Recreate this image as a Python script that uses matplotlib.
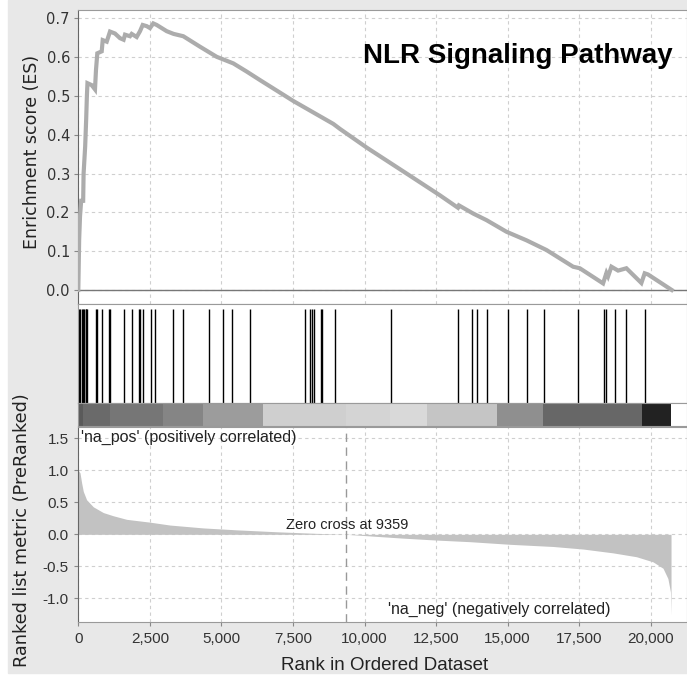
import matplotlib
matplotlib.use('Agg')
import matplotlib.pyplot as plt
from matplotlib.patches import Rectangle
import numpy as np

# running enrichment score (rank, ES)
es_rank = [0, 30, 60, 100, 170, 185, 240, 275, 300, 320, 468, 583, 618, 664, 818, 853,
           993, 1108, 1282, 1457, 1583, 1632, 1806, 1865, 2040, 2156, 2250, 2390, 2505,
           2620, 2740, 3089, 3330, 3669, 4252, 4834, 5416, 5882, 6348, 7515, 8911, 9145,
           10077, 11473, 12635, 13264, 13300, 13798, 14264, 14963, 15661, 16359, 17289,
           17522, 18336, 18453, 18510, 18627, 18860, 19150, 19674, 19790, 19906, 20735]
es_value = [0.0, 0.13, 0.19, 0.23, 0.23, 0.30, 0.37, 0.44, 0.50, 0.533, 0.528, 0.517,
            0.567, 0.61, 0.615, 0.644, 0.64, 0.666, 0.661, 0.649, 0.645, 0.658, 0.654,
            0.66, 0.652, 0.667, 0.683, 0.68, 0.675, 0.687, 0.683, 0.667, 0.66, 0.654,
            0.627, 0.601, 0.584, 0.563, 0.541, 0.487, 0.428, 0.415, 0.367, 0.30, 0.244,
            0.212, 0.218, 0.197, 0.18, 0.15, 0.128, 0.103, 0.06, 0.056, 0.017, 0.044,
            0.035, 0.06, 0.05, 0.056, 0.018, 0.043, 0.04, 0.0]

# gene set hits (rank positions)
hits = [20, 60, 130, 170, 215, 255, 285, 310, 618, 663, 813,
        1082, 1117, 1606, 1860, 2119, 2164, 2258, 2548, 2663, 3316, 3675, 4562, 5072,
        5365, 6014, 7923, 8098, 8168, 8237, 8471, 8516, 8970, 10925, 13264, 13763,
        13916, 14265, 15009, 15661, 16265, 17463, 18370, 18454, 18768, 19152, 19815]

# colour band under the hits
band_edges = [0, 164, 1108, 2960, 4357, 6454, 9350, 10890, 12184, 14630, 16236, 19696, 20710]
band_colors = ['#5a5a5a', '#6a6a6a', '#767676', '#858585', '#9c9c9c', '#cfcfcf',
               '#d4d4d4', '#d9d9d9', '#c5c5c5', '#8f8f8f', '#676767', '#222222']

# ranked list metric
metric_rank = [0, 60, 118, 175, 290, 523, 873, 1222, 1690, 2503, 3200, 4363, 5527,
               6923, 8320, 9359, 11355, 12520, 13682, 15078, 16590, 17638, 18685,
               19500, 20080, 20430, 20600, 20690, 20710]
metric_value = [1.0, 0.96, 0.80, 0.67, 0.54, 0.43, 0.34, 0.29, 0.234, 0.19, 0.145, 0.10,
                0.07, 0.04, 0.015, 0.0, -0.06, -0.09, -0.115, -0.156, -0.19, -0.23,
                -0.29, -0.35, -0.43, -0.53, -0.69, -0.9, -1.26]
zero_cross = 9359

x_ticks = [0, 2500, 5000, 7500, 10000, 12500, 15000, 17500, 20000]
x_ticklabels = ['0', '2,500', '5,000', '7,500', '10,000', '12,500', '15,000', '17,500', '20,000']
es_ticks = [0.0, 0.1, 0.2, 0.3, 0.4, 0.5, 0.6, 0.7]
metric_ticks = [-1.0, -0.5, 0.0, 0.5, 1.0, 1.5]

W, H = 687, 679
XMAX = 21268
narrow = ['Liberation Sans', 'DejaVu Sans']
tick_col = '#333333'
grid_kw = dict(color='#cfcfcf', linestyle=(0, (3, 3)), linewidth=0.8)


def box(top, bottom, left=78.3, right=687):
    # pixel box -> figure fraction
    return [left / W, 1 - bottom / H, (right - left) / W, (bottom - top) / H]


fig = plt.figure(figsize=(W / 100, H / 100), dpi=100)
fig.patches.append(Rectangle((8 / W, 1 - 673 / H), 1 - 8 / W, 673 / H,
                             transform=fig.transFigure, color='#e8e8e8', zorder=-10))

ax_es = fig.add_axes(box(10, 304))
ax_hit = fig.add_axes(box(304, 403))
ax_band = fig.add_axes(box(403, 426))
ax_m = fig.add_axes(box(427, 622))

for ax in [ax_es, ax_hit, ax_band, ax_m]:
    ax.set_xlim(0, XMAX)
    for s in ax.spines.values():
        s.set_color('#9a9a9a')
        s.set_linewidth(0.8)

# enrichment score
ax_es.set_ylim(-0.0361, 0.7216)
ax_es.plot(es_rank, es_value, color='#acacac', lw=3.0, solid_joinstyle='miter', zorder=3)
ax_es.axhline(0, color='#777777', lw=1.0, zorder=2)
ax_es.set_xticks(x_ticks)
ax_es.set_yticks(es_ticks)
ax_es.set_yticklabels(['%.1f' % t for t in es_ticks], fontsize=10.5, color=tick_col)
ax_es.tick_params(axis='x', length=0, labelbottom=False)
ax_es.tick_params(axis='y', length=3, color='#888888', pad=3)
ax_es.grid(True, **grid_kw)
ax_es.set_axisbelow(True)
ax_es.spines['left'].set_color('#666666')

# hits
ax_hit.set_ylim(0, 1)
ax_hit.vlines(hits, 0, 0.95, color='black', lw=1.0)
ax_hit.set_xticks([])
ax_hit.set_yticks([])

# colour band
ax_band.set_ylim(0, 1)
for i, c in enumerate(band_colors):
    ax_band.axvspan(band_edges[i], band_edges[i + 1], color=c, lw=0)
ax_band.set_xticks([])
ax_band.set_yticks([])

# ranked list metric
ax_m.set_ylim(-1.370, 1.677)
ax_m.fill_between(metric_rank, metric_value, 0, color='#c2c2c2', lw=0, zorder=2)
ax_m.axvline(zero_cross, color='#999999', lw=1.0, linestyle=(0, (6, 4)), zorder=3)
ax_m.set_xticks(x_ticks)
ax_m.set_xticklabels(x_ticklabels, family=narrow, fontsize=11, color=tick_col)
ax_m.set_yticks(metric_ticks)
ax_m.set_yticklabels(['%.1f' % t for t in metric_ticks], family=narrow, fontsize=11,
                     color=tick_col)
ax_m.tick_params(axis='both', length=3, color='#888888', pad=4)
ax_m.grid(True, **grid_kw)
ax_m.set_axisbelow(True)
ax_m.spines['left'].set_color('#666666')

ax_m.text(95, 1.52, "'na_pos' (positively correlated)", family=narrow, fontsize=11.5,
          color='#222222', ha='left', va='center')
ax_m.text(9378, 0.14, 'Zero cross at 9359', family=narrow, fontsize=10.5,
          color='#222222', ha='center', va='center', zorder=4)
ax_m.text(14700, -1.18, "'na_neg' (negatively correlated)", family=narrow, fontsize=11.5,
          color='#222222', ha='center', va='center')

# labels and title
fig.text(32 / W, 1 - 152 / H, 'Enrichment score (ES)', rotation=90, ha='center',
         va='center', fontsize=12.5, color='#222222')
fig.text(22 / W, 1 - 530 / H, 'Ranked list metric (PreRanked)', rotation=90,
         ha='center', va='center', fontsize=12.7, color='#222222')
fig.text(385 / W, 1 - 665 / H, 'Rank in Ordered Dataset', ha='center', va='center',
         family=narrow, fontsize=13.5, color='#222222')
fig.text(673 / W, 1 - 63 / H, 'NLR Signaling Pathway', ha='right', va='baseline',
         family=['Liberation Sans', 'DejaVu Sans'], fontweight='bold', fontsize=20,
         color='black')

fig.savefig('out.png', dpi=100)
